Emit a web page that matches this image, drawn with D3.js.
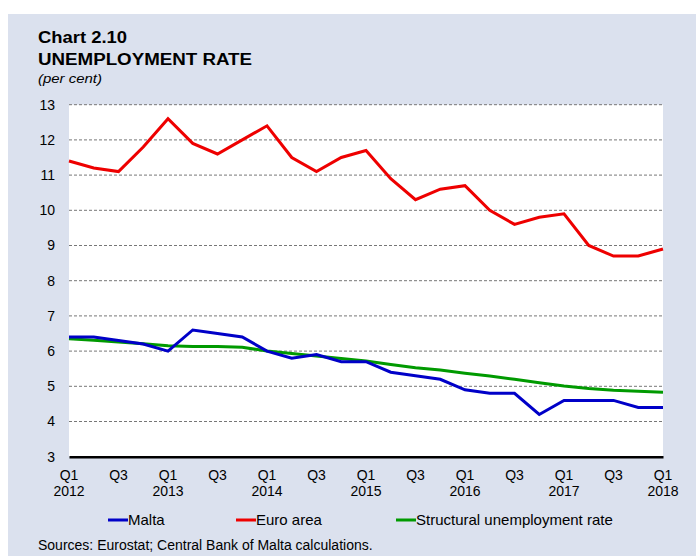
<!DOCTYPE html>
<html lang="en">
<head>
  <meta charset="UTF-8" />
  <title>Chart 2.10 Unemployment rate</title>
  <script src="https://d3js.org/d3.v7.min.js"></script>
  <style>
    body { margin: 0; background: #fff; }
    svg { display: block; font-family: "Liberation Sans", Arial, sans-serif; }
  </style>
</head>
<body>
  <svg id="chart" width="696" height="556"></svg>

  <script>
    // quarters Q1 2012 .. Q1 2018
    const quarters = [
      "2012Q1","2012Q2","2012Q3","2012Q4",
      "2013Q1","2013Q2","2013Q3","2013Q4",
      "2014Q1","2014Q2","2014Q3","2014Q4",
      "2015Q1","2015Q2","2015Q3","2015Q4",
      "2016Q1","2016Q2","2016Q3","2016Q4",
      "2017Q1","2017Q2","2017Q3","2017Q4",
      "2018Q1"
    ];
    const malta = [6.4, 6.4, 6.3, 6.2, 6.0, 6.6, 6.5, 6.4, 6.0, 5.8, 5.9, 5.7, 5.7,
                   5.4, 5.3, 5.2, 4.9, 4.8, 4.8, 4.2, 4.6, 4.6, 4.6, 4.4, 4.4];
    const euroArea = [11.4, 11.2, 11.1, 11.8, 12.6, 11.9, 11.6, 12.0, 12.4, 11.5, 11.1, 11.5, 11.7,
                      10.9, 10.3, 10.6, 10.7, 10.0, 9.6, 9.8, 9.9, 9.0, 8.7, 8.7, 8.9];
    const structural = [6.35, 6.31, 6.26, 6.21, 6.15, 6.13, 6.13, 6.11, 6.0, 5.93, 5.86, 5.79, 5.72,
                        5.62, 5.53, 5.46, 5.37, 5.29, 5.2, 5.1, 5.01, 4.94, 4.89, 4.86, 4.83];
    const yTicks = [3, 4, 5, 6, 7, 8, 9, 10, 11, 12, 13];

    const series = [
      { name: "Malta", values: malta, color: "#0000c8" },
      { name: "Euro area", values: euroArea, color: "#ee0000" },
      { name: "Structural unemployment rate", values: structural, color: "#009a00" }
    ];

    const svg = d3.select("#chart");

    // panel background
    svg.append("rect")
      .attr("x", 8).attr("y", 14)
      .attr("width", 688).attr("height", 542)
      .attr("fill", "#dbe1ee");

    // titles (original font is wider than Arial, so stretch to fit)
    svg.append("text").attr("x", 38).attr("y", 43)
      .style("font-size", "16px").attr("font-weight", "bold")
      .attr("textLength", 89).attr("lengthAdjust", "spacingAndGlyphs")
      .text("Chart 2.10");
    svg.append("text").attr("x", 38).attr("y", 65)
      .style("font-size", "16px").attr("font-weight", "bold")
      .attr("textLength", 214).attr("lengthAdjust", "spacingAndGlyphs")
      .text("UNEMPLOYMENT RATE");
    svg.append("text").attr("x", 38).attr("y", 83)
      .style("font-size", "13px").attr("font-style", "italic")
      .attr("textLength", 64).attr("lengthAdjust", "spacingAndGlyphs")
      .text("(per cent)");

    const plot = { left: 69, right: 663, top: 104.7, bottom: 456.7 };

    const x = d3.scalePoint()
      .domain(quarters)
      .range([plot.left, plot.right]);

    const y = d3.scaleLinear()
      .domain([3, 13])
      .range([plot.bottom, plot.top]);

    // plot area
    svg.append("rect")
      .attr("x", plot.left).attr("y", plot.top)
      .attr("width", plot.right - plot.left)
      .attr("height", plot.bottom - plot.top)
      .attr("fill", "#fff");

    // gridlines
    svg.append("g")
      .selectAll("line")
      .data(yTicks.filter(d => d > 3))
      .join("line")
      .attr("x1", plot.left).attr("x2", plot.right)
      .attr("y1", d => y(d)).attr("y2", d => y(d))
      .attr("stroke", "#777")
      .attr("stroke-width", 1)
      .attr("stroke-dasharray", "3,2");

    // y axis labels
    const yAxis = svg.append("g")
      .attr("transform", `translate(${plot.left},0)`)
      .call(d3.axisLeft(y).tickValues(yTicks).tickSize(0).tickPadding(14));
    yAxis.select(".domain").remove();
    yAxis.selectAll("text")
      .style("font-size", "14px")
      .style("font-family", "Liberation Sans, Arial, sans-serif")
      .attr("fill", "#000");

    // x axis
    const xAxis = svg.append("g")
      .attr("transform", `translate(0,${plot.bottom})`)
      .call(d3.axisBottom(x).tickSize(0).tickFormat(""));
    xAxis.select(".domain")
      .attr("stroke", "#000")
      .attr("stroke-width", 2.5);

    const labelled = quarters.filter((q, i) => i % 2 === 0);
    const xLabels = svg.append("g").selectAll("text")
      .data(labelled)
      .join("text")
      .attr("x", d => x(d))
      .attr("y", 480)
      .attr("text-anchor", "middle")
      .style("font-size", "14px");
    xLabels.append("tspan")
      .attr("x", d => x(d))
      .text(d => d.slice(4));
    xLabels.filter(d => d.endsWith("Q1"))
      .append("tspan")
      .attr("x", d => x(d))
      .attr("dy", 16)
      .text(d => d.slice(0, 4));

    // lines
    const line = d3.line()
      .x((d, i) => x(quarters[i]))
      .y(d => y(d));

    // draw in order: green, blue, red
    [series[2], series[0], series[1]].forEach(s => {
      svg.append("path")
        .datum(s.values)
        .attr("fill", "none")
        .attr("stroke", s.color)
        .attr("stroke-width", 3)
        .attr("stroke-linejoin", "miter")
        .attr("d", line);
    });

    // legend
    const legendX = [108, 236, 396];
    const legend = svg.append("g").selectAll("g")
      .data(series)
      .join("g")
      .attr("transform", (d, i) => `translate(${legendX[i]},520)`);
    legend.append("line")
      .attr("x1", 0).attr("x2", 20)
      .attr("stroke", d => d.color)
      .attr("stroke-width", 3);
    legend.append("text")
      .attr("x", 20)
      .attr("dy", "0.35em")
      .style("font-size", "15px")
      .text(d => d.name);

    // source
    svg.append("text")
      .attr("x", 38).attr("y", 550)
      .style("font-size", "14px")
      .text("Sources: Eurostat; Central Bank of Malta calculations.");
  </script>
</body>
</html>
